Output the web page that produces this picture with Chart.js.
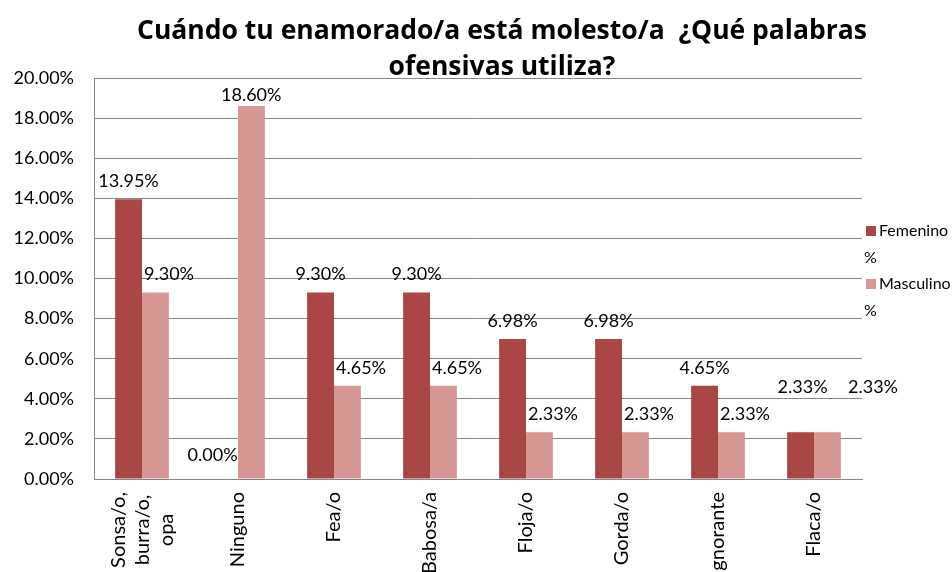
<!DOCTYPE html>
<html>
<head>
<meta charset="utf-8">
<script src="https://cdn.jsdelivr.net/npm/chart.js@4.4.1/dist/chart.umd.min.js"></script>
<style>
  html, body { margin: 0; padding: 0; background: #fff; }
  #wrap { width: 952px; height: 572px; }
</style>
</head>
<body>
<div id="wrap"><canvas id="grafico" width="952" height="572"></canvas></div>
<script>
// datos del gráfico
const categorias = [['Sonsa/o,', 'burra/o,', 'opa'], 'Ninguno', 'Fea/o', 'Babosa/a', 'Floja/o', 'Gorda/o', 'Ignorante', 'Flaca/o'];
const femenino = [13.95, 0.00, 9.30, 9.30, 6.98, 6.98, 4.65, 2.33];
const masculino = [9.30, 18.60, 4.65, 4.65, 2.33, 2.33, 2.33, 2.33];
const series = ['Femenino %', 'Masculino %'];
const ejeYMax = 20;
const ejeYPaso = 2;
const tituloLineas = ['Cuándo tu enamorado/a está molesto/a  ¿Qué palabras', 'ofensivas utiliza?'];

const colores = ['#AA4643', '#D79795'];
const fuente = 'Lato';
const tamEjeX = 20;
const altoLinea = 1.2;

// título dibujado a mano para que se superponga al área como en el original
const pluginTitulo = {
  id: 'titulo',
  afterDraw(chart) {
    const ctx = chart.ctx;
    ctx.save();
    ctx.font = 'bold 26.5px "Open Sans"';
    ctx.fillStyle = '#000';
    ctx.textAlign = 'center';
    ctx.textBaseline = 'middle';
    tituloLineas.forEach((t, i) => ctx.fillText(t, 502, 31 + i * 36));
    ctx.restore();
  }
};

// leyenda a la derecha con el texto partido en dos líneas
const pluginLeyenda = {
  id: 'leyenda',
  afterDraw(chart) {
    const ctx = chart.ctx;
    ctx.save();
    ctx.font = '16px ' + fuente;
    ctx.textBaseline = 'middle';
    series.forEach((s, i) => {
      const y = 231 + i * 53;
      const partes = s.split(' ');
      ctx.fillStyle = colores[i];
      ctx.fillRect(866, y - 5, 10, 10);
      ctx.fillStyle = '#000';
      ctx.fillText(partes[0], 879, y);
      ctx.fillText(partes[1], 864, y + 27);
    });
    ctx.restore();
  }
};

// las etiquetas de varias líneas se centran sobre la marca, como en Excel
const pluginEtiquetasX = {
  id: 'etiquetasX',
  beforeDraw(chart) {
    const escala = chart.scales.x;
    const items = escala.getLabelItems(chart.chartArea);
    const ctx = chart.ctx;
    ctx.save();
    ctx.font = tamEjeX + 'px ' + fuente;
    items.forEach(it => {
      if (!Array.isArray(it.label) || it._centrado) return;
      const n = it.label.length;
      const ancho = Math.max(...it.label.map(l => ctx.measureText(l).width));
      it.options.translation[0] -= (n - 1) * tamEjeX * altoLinea / 2 - 1;
      it.options.translation[1] += ancho / 2;
      it.options.textAlign = 'center';
      it._centrado = true;
    });
    ctx.restore();
  }
};

// etiquetas de valor sobre cada barra
const pluginEtiquetas = {
  id: 'etiquetas',
  afterDatasetsDraw(chart, args, opts) {
    const ctx = chart.ctx;
    ctx.save();
    ctx.font = '18px ' + fuente;
    ctx.fillStyle = '#000';
    ctx.textBaseline = 'middle';
    chart.data.datasets.forEach((ds, di) => {
      const meta = chart.getDatasetMeta(di);
      meta.data.forEach((bar, i) => {
        const txt = ds.data[i].toFixed(2) + '%';
        const ajuste = opts.ajustes[di + '-' + i] || { dx: 0, dy: 0 };
        let x;
        if (di === 0) {
          ctx.textAlign = 'center';
          x = bar.x;
        } else {
          ctx.textAlign = 'left';
          x = bar.x - bar.width / 2 + 2;
        }
        ctx.fillText(txt, x + ajuste.dx, bar.y - 18 + ajuste.dy);
      });
    });
    ctx.restore();
  }
};

new Chart(document.getElementById('grafico'), {
  type: 'bar',
  data: {
    labels: categorias,
    datasets: [
      { label: series[0], data: femenino, backgroundColor: colores[0] },
      { label: series[1], data: masculino, backgroundColor: colores[1] }
    ]
  },
  options: {
    responsive: false,
    animation: false,
    layout: { padding: { top: 78, right: 90, left: 0, bottom: 0 } },
    datasets: { bar: { categoryPercentage: 0.56, barPercentage: 1 } },
    scales: {
      x: {
        grid: { display: false, drawTicks: false },
        border: { color: '#868686' },
        ticks: {
          color: '#000',
          font: { family: fuente, size: tamEjeX, lineHeight: altoLinea },
          maxRotation: 90,
          minRotation: 90,
          padding: 13,
          autoSkip: false
        },
        afterFit(scale) { scale.height = 93; }
      },
      y: {
        min: 0,
        max: ejeYMax,
        grid: { color: '#868686', drawTicks: false },
        border: { color: '#868686' },
        ticks: {
          stepSize: ejeYPaso,
          color: '#000',
          font: { family: fuente, size: 18 },
          padding: 20,
          callback: v => v.toFixed(2) + '%'
        },
        afterFit(scale) { scale.width = 94; }
      }
    },
    plugins: {
      legend: { display: false },
      tooltip: { enabled: false },
      etiquetas: {
        ajustes: {
          '0-1': { dx: -12, dy: -6 },
          '1-1': { dx: -19, dy: 7 },
          '0-7': { dx: 2, dy: -27 },
          '1-7': { dx: 32, dy: -27 }
        }
      }
    }
  },
  plugins: [pluginEtiquetasX, pluginEtiquetas, pluginTitulo, pluginLeyenda]
});
</script>
</body>
</html>
